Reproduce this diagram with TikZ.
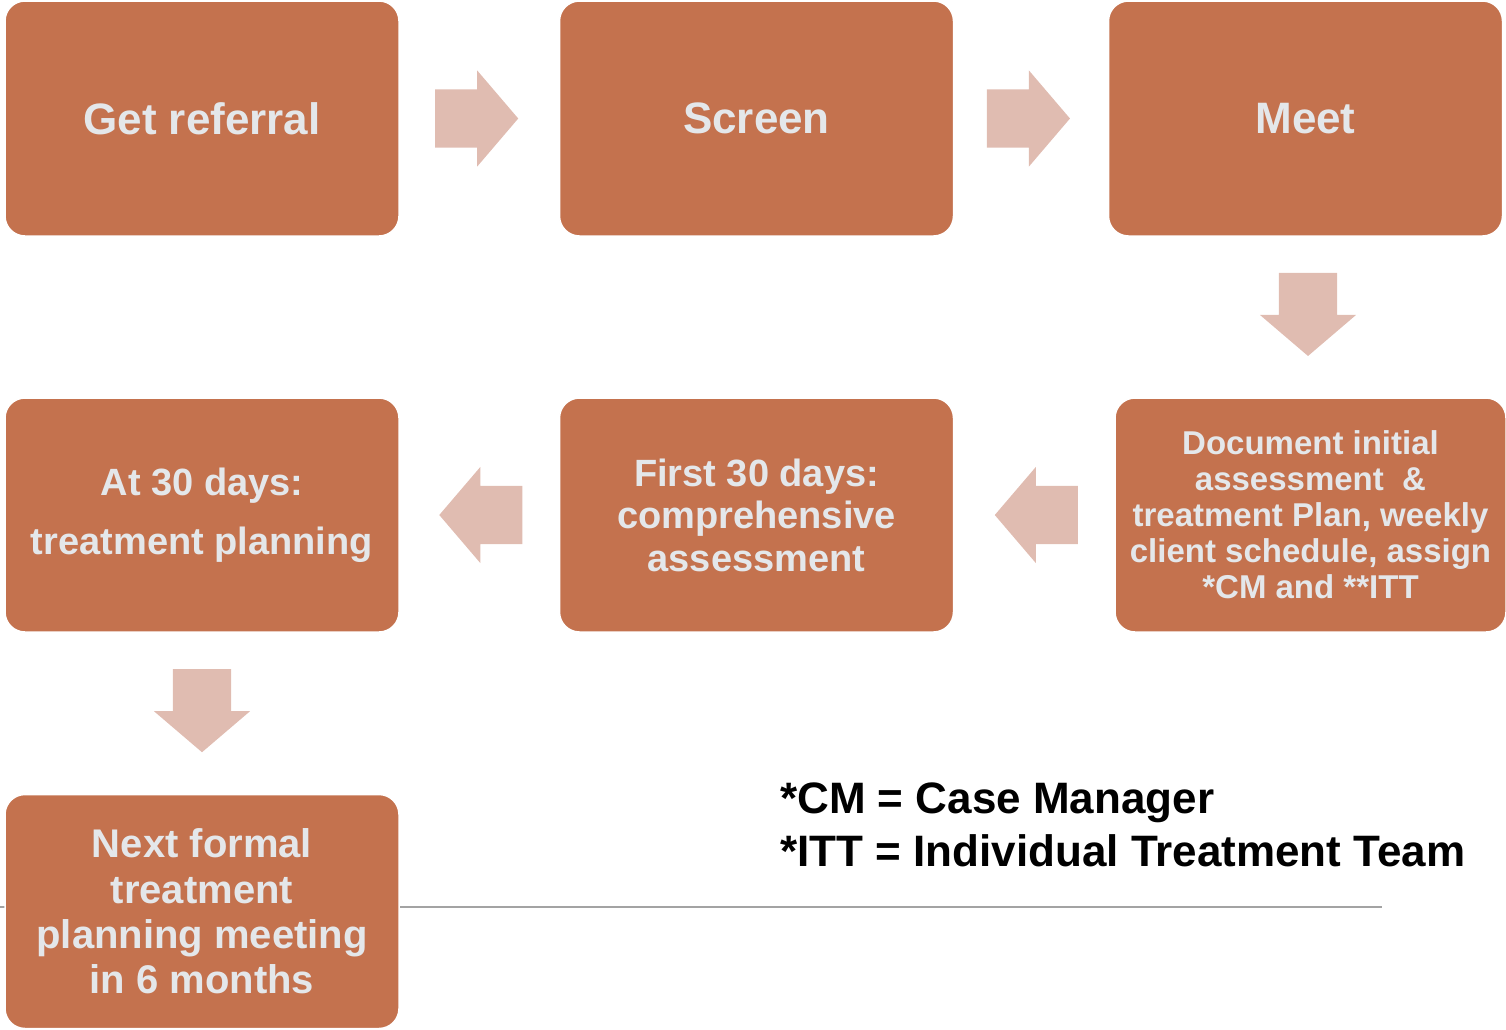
\documentclass[tikz,border=0pt]{standalone}
\usepackage{fontspec}
\setmainfont{Liberation Sans}
\usetikzlibrary{shapes.arrows,calc}
\definecolor{boxfill}{HTML}{C4724E}
\definecolor{boxtext}{HTML}{E4E7EA}
\definecolor{arrowfill}{HTML}{E0BCB1}
\definecolor{rulegray}{HTML}{A3A3A3}
\newcommand{\fsz}[2]{\fontsize{#1}{#2}\selectfont\bfseries}
\begin{document}
\begin{tikzpicture}[x=1pt,y=-1pt,
  stepbox/.style={draw=white,line width=1.5pt,fill=boxfill,rounded corners=20pt,text=boxtext,
    minimum width=394pt,minimum height=235pt,align=center,inner sep=0pt},
  blockarrow/.style={shape=single arrow,fill=arrowfill,draw=none,inner xsep=0pt,inner ysep=29pt,
    minimum height=83pt,single arrow head extend=19pt,
    single arrow tip angle=99,single arrow head indent=0pt}]
\useasboundingbox (0,0) rectangle (1506,1029);

% thin rule behind the last step
\draw[rulegray,line width=2.8pt] (0,907) -- (1382,907);

% steps
\node[stepbox,font=\fsz{44}{50}] (b1) at (202,118.5) {Get referral};
\node[stepbox,font=\fsz{44}{50}] (b2) at (756.5,118.5) {Screen};
\node[stepbox,font=\fsz{44}{50}] (b3) at (1305.5,118.5) {Meet};
\node[stepbox,minimum height=234pt,font=\fsz{38}{45}] (b4) at (202,515)
  {At 30 days:\\[14pt]treatment planning};
\node[stepbox,minimum height=234pt,font=\fsz{38}{42.5}] (b5) at (756.5,515)
  {First 30 days:\\comprehensive\\assessment};
\node[stepbox,minimum width=391pt,minimum height=234pt,font=\fsz{33}{36}] (b6) at (1310.5,515)
  {Document initial\\assessment\ \ \&\\treatment Plan, weekly\\client schedule, assign\\*CM and **ITT};
\node[stepbox,minimum height=234pt,font=\fsz{40}{45.3}] (b7) at (202,911.5)
  {Next formal\\treatment\\planning meeting\\in 6 months};

% flow arrows between the steps
\node[blockarrow] (a1) at ($($(b1.east)!0.5!(b2.west)$)+(-15,0)$) {};
\node[blockarrow] (a2) at ($($(b2.east)!0.5!(b3.west)$)+(-15,0)$) {};
\node[blockarrow,rotate=-90] (a3) at ($($(b3.south)!0.5!(b6.north)$)+(0,-15)$) {};
\node[blockarrow,rotate=180] (a4) at ($($(b6.west)!0.5!(b5.east)$)+(14.5,0)$) {};
\node[blockarrow,rotate=180] (a5) at ($($(b5.west)!0.5!(b4.east)$)+(14,0)$) {};
\node[blockarrow,rotate=-90] (a6) at ($($(b4.south)!0.5!(b7.north)$)+(0,-15)$) {};

% legend
\node[anchor=west,align=left,inner sep=0pt,text=black,font=\fsz{44}{53}] (legend) at (780,824.5)
  {*CM = Case Manager\\*ITT = Individual Treatment Team};
\end{tikzpicture}
\end{document}
